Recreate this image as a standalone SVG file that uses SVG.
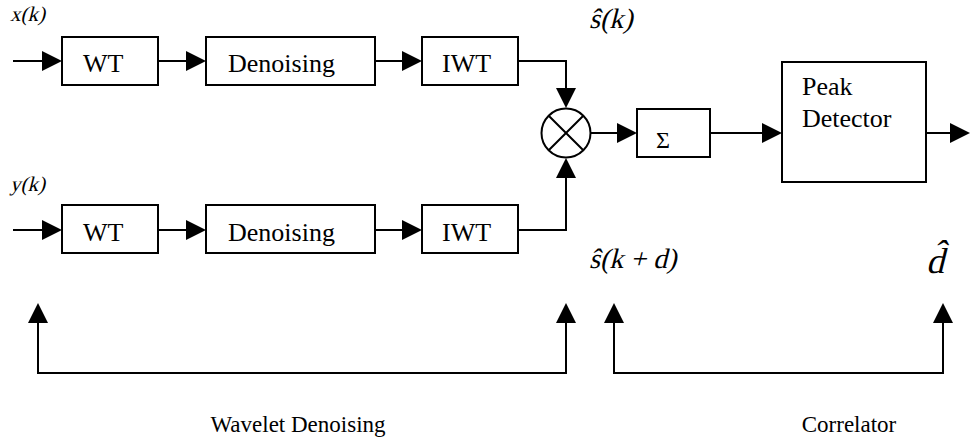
<svg xmlns="http://www.w3.org/2000/svg" width="970" height="443" viewBox="0 0 970 443">
  <style>
    .box { fill: #fff; stroke: #000; stroke-width: 2; }
    .ln { fill: none; stroke: #000; stroke-width: 2; }
    .head { fill: #000; }
  </style>

  <!-- connectors: lines plus solid triangular heads -->
  <g id="connectors">
    <path class="ln" d="M13,61 H44 M158,61 H188 M375,61 H404 M518,61 H566 V90"/>
    <path class="ln" d="M13,230 H44 M158,230 H188 M375,230 H404 M518,230 H566 V176"/>
    <path class="ln" d="M591,133 H619 M710,133 H764 M926,133 H952"/>
    <path class="ln" d="M38,321 V373 H566 V321 M614,321 V373 H943 V321"/>
    <polygon class="head" points="42,51 62,61 42,71"/>
    <polygon class="head" points="186,51 206,61 186,71"/>
    <polygon class="head" points="402,51 422,61 402,71"/>
    <polygon class="head" points="556,88 566,108 576,88"/>
    <polygon class="head" points="42,220 62,230 42,240"/>
    <polygon class="head" points="186,220 206,230 186,240"/>
    <polygon class="head" points="402,220 422,230 402,240"/>
    <polygon class="head" points="556,178 566,158 576,178"/>
    <polygon class="head" points="617,123 637,133 617,143"/>
    <polygon class="head" points="762,123 782,133 762,143"/>
    <polygon class="head" points="950,123 970,133 950,143"/>
    <polygon class="head" points="28,323 38,303 48,323"/>
    <polygon class="head" points="556,323 566,303 576,323"/>
    <polygon class="head" points="604,323 614,303 624,323"/>
    <polygon class="head" points="933,323 943,303 953,323"/>
  </g>

  <!-- input signal labels (slanted) -->
  <g transform="translate(10,21) skewX(-14)">
    <text font-family="Liberation Serif" font-size="21" x="0" y="0">x(k)</text>
  </g>
  <g transform="translate(10,191) skewX(-14)">
    <text font-family="Liberation Serif" font-size="21" x="0" y="0">y(k)</text>
  </g>

  <!-- upper chain -->
  <g id="wt1">
    <rect class="box" x="62" y="37" width="96" height="48"/>
    <text font-family="Liberation Serif" font-size="26" x="83" y="72">WT</text>
  </g>
  <g id="den1">
    <rect class="box" x="206" y="37" width="169" height="48"/>
    <text font-family="Liberation Serif" font-size="26" x="228" y="72">Denoising</text>
  </g>
  <g id="iwt1">
    <rect class="box" x="422" y="37" width="96" height="48"/>
    <text font-family="Liberation Serif" font-size="26" x="442" y="72">IWT</text>
  </g>

  <!-- lower chain -->
  <g id="wt2">
    <rect class="box" x="62" y="205" width="96" height="48"/>
    <text font-family="Liberation Serif" font-size="26" x="83" y="241">WT</text>
  </g>
  <g id="den2">
    <rect class="box" x="206" y="205" width="169" height="48"/>
    <text font-family="Liberation Serif" font-size="26" x="228" y="241">Denoising</text>
  </g>
  <g id="iwt2">
    <rect class="box" x="422" y="205" width="96" height="48"/>
    <text font-family="Liberation Serif" font-size="26" x="442" y="241">IWT</text>
  </g>

  <!-- multiplier -->
  <g id="mult">
    <circle class="box" cx="566" cy="133" r="24.5"/>
    <path class="ln" d="M548.7,115.7 L583.3,150.3 M583.3,115.7 L548.7,150.3"/>
  </g>

  <!-- summation -->
  <g id="sum">
    <rect class="box" x="637" y="109" width="73" height="48"/>
    <text font-family="Liberation Serif" font-size="24" x="656" y="148">&#931;</text>
  </g>

  <!-- peak detector -->
  <g id="peak">
    <rect class="box" x="782" y="62" width="144" height="120"/>
    <text font-family="Liberation Serif" font-size="26" x="802" y="95">Peak</text>
    <text font-family="Liberation Serif" font-size="26" x="802" y="127">Detector</text>
  </g>

  <!-- signal estimates (slanted) -->
  <g transform="translate(589,28) skewX(-14)">
    <text font-family="Liberation Serif" font-size="28" x="0" y="0">&#349;(k)</text>
  </g>
  <g transform="translate(589,268) skewX(-14)">
    <text font-family="Liberation Serif" font-size="28" x="0" y="0">&#349;(k + d)</text>
  </g>
  <g transform="translate(926,273) skewX(-14)">
    <text font-family="Liberation Serif" font-size="36" x="0" y="0">d&#770;</text>
  </g>

  <!-- section captions -->
  <text font-family="Liberation Serif" font-size="23" text-anchor="middle" x="298" y="432">Wavelet Denoising</text>
  <text font-family="Liberation Serif" font-size="23" text-anchor="middle" x="849" y="432">Correlator</text>
</svg>
